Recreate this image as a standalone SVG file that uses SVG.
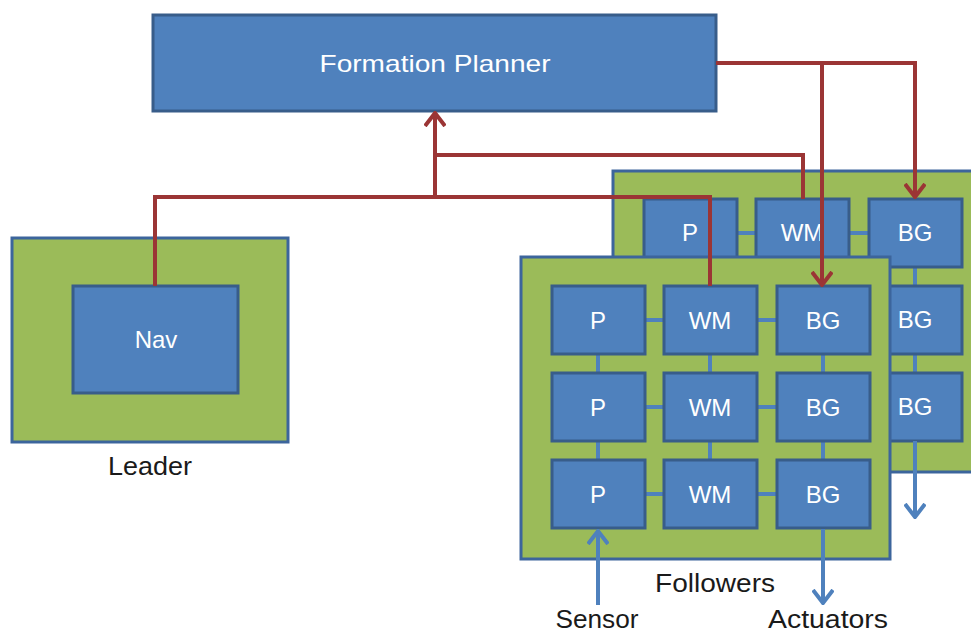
<svg xmlns="http://www.w3.org/2000/svg" width="971" height="633" viewBox="0 0 971 633">
<style>
.grp{fill:#9BBB59;stroke:#3C659C;stroke-width:3}
.box{fill:#4F81BD;stroke:#385D8A;stroke-width:3}
.lbl{font-family:"Liberation Sans",Arial,sans-serif;font-size:24px;fill:#FFFFFF;text-anchor:middle}
.cap{font-family:"Liberation Sans",Arial,sans-serif;font-size:25px;fill:#1A1A1A;text-anchor:middle}
.link{stroke:#4F81BD;stroke-width:4;fill:none}
.red{stroke:#9B3535;stroke-width:4;fill:none}
</style>
<defs>
<marker id="ar" markerUnits="userSpaceOnUse" viewBox="0 0 16 22" refX="14" refY="11" markerWidth="16" markerHeight="22" orient="auto">
<path d="M1,1 L14,11 L1,21" fill="none" stroke="#9B3535" stroke-width="4"/>
</marker>
<marker id="ab" markerUnits="userSpaceOnUse" viewBox="0 0 16 22" refX="14" refY="11" markerWidth="16" markerHeight="22" orient="auto">
<path d="M1,1 L14,11 L1,21" fill="none" stroke="#4F81BD" stroke-width="4"/>
</marker>
</defs>
<rect width="971" height="633" fill="#FFFFFF"/>

<g id="planner">
<rect class="box" x="153" y="15" width="563" height="96"/>
<text class="lbl" x="435" y="72" textLength="231" lengthAdjust="spacingAndGlyphs">Formation Planner</text>
</g>

<g id="leader">
<rect class="grp" x="12" y="238" width="276" height="204"/>
<g id="nav">
<rect class="box" x="73" y="286" width="165" height="107"/>
<text class="lbl" x="156" y="348">Nav</text>
</g>
<text class="cap" x="150" y="475" textLength="84" lengthAdjust="spacingAndGlyphs">Leader</text>
</g>

<g id="follower-back">
<rect class="grp" x="613" y="171" width="380" height="301"/>
</g>
<g id="back-links">
<path class="link" d="M737,233 H756 M849,233 H869 M737,320 H756 M849,320 H869 M737,407 H756 M849,407 H869 M690,267 V286 M802,267 V286 M915,267 V286 M690,354 V373 M802,354 V373 M915,354 V373"/>
</g>
<g id="back-p1"><rect class="box" x="644" y="199" width="93" height="68"/><text class="lbl" x="690" y="241">P</text></g>
<g id="back-wm1"><rect class="box" x="756" y="199" width="93" height="68"/><text class="lbl" x="802" y="241">WM</text></g>
<g id="back-bg1"><rect class="box" x="869" y="199" width="93" height="68"/><text class="lbl" x="915" y="241">BG</text></g>
<g id="back-p2"><rect class="box" x="644" y="286" width="93" height="68"/></g>
<g id="back-wm2"><rect class="box" x="756" y="286" width="93" height="68"/></g>
<g id="back-bg2"><rect class="box" x="869" y="286" width="93" height="68"/><text class="lbl" x="915" y="328">BG</text></g>
<g id="back-p3"><rect class="box" x="644" y="373" width="93" height="68"/></g>
<g id="back-wm3"><rect class="box" x="756" y="373" width="93" height="68"/></g>
<g id="back-bg3"><rect class="box" x="869" y="373" width="93" height="68"/><text class="lbl" x="915" y="415">BG</text></g>

<g id="followers">
<rect class="grp" x="521" y="257" width="369" height="302"/>
<text class="cap" x="715" y="592" textLength="120" lengthAdjust="spacingAndGlyphs">Followers</text>
</g>
<g id="front-links">
<path class="link" d="M645,320 H664 M757,320 H777 M645,407 H664 M757,407 H777 M645,494 H664 M757,494 H777 M598,354 V373 M710,354 V373 M823,354 V373 M598,441 V460 M710,441 V460 M823,441 V460"/>
</g>
<g id="p1"><rect class="box" x="552" y="286" width="93" height="68"/><text class="lbl" x="598" y="329">P</text></g>
<g id="wm1"><rect class="box" x="664" y="286" width="93" height="68"/><text class="lbl" x="710" y="329">WM</text></g>
<g id="bg1"><rect class="box" x="777" y="286" width="93" height="68"/><text class="lbl" x="823" y="329">BG</text></g>
<g id="p2"><rect class="box" x="552" y="373" width="93" height="68"/><text class="lbl" x="598" y="416">P</text></g>
<g id="wm2"><rect class="box" x="664" y="373" width="93" height="68"/><text class="lbl" x="710" y="416">WM</text></g>
<g id="bg2"><rect class="box" x="777" y="373" width="93" height="68"/><text class="lbl" x="823" y="416">BG</text></g>
<g id="p3"><rect class="box" x="552" y="460" width="93" height="68"/><text class="lbl" x="598" y="503">P</text></g>
<g id="wm3"><rect class="box" x="664" y="460" width="93" height="68"/><text class="lbl" x="710" y="503">WM</text></g>
<g id="bg3"><rect class="box" x="777" y="460" width="93" height="68"/><text class="lbl" x="823" y="503">BG</text></g>

<g id="io-labels">
<text class="cap" x="597" y="628" textLength="83" lengthAdjust="spacingAndGlyphs">Sensor</text>
<text class="cap" x="828" y="628" textLength="120" lengthAdjust="spacingAndGlyphs">Actuators</text>
</g>

<g id="connectors">
<path class="link" d="M598,605 V531" marker-end="url(#ab)"/>
<path class="link" d="M823,529 V603" marker-end="url(#ab)"/>
<path class="link" d="M915,441 V517" marker-end="url(#ab)"/>
<path class="red" d="M155,286 V197 H710 V286"/>
<path class="red" d="M435,197 V113" marker-end="url(#ar)"/>
<path class="red" d="M435,155 H803 V199"/>
<path class="red" d="M716,63 H915 V197" marker-end="url(#ar)"/>
<path class="red" d="M822,63 V285" marker-end="url(#ar)"/>
</g>
</svg>
